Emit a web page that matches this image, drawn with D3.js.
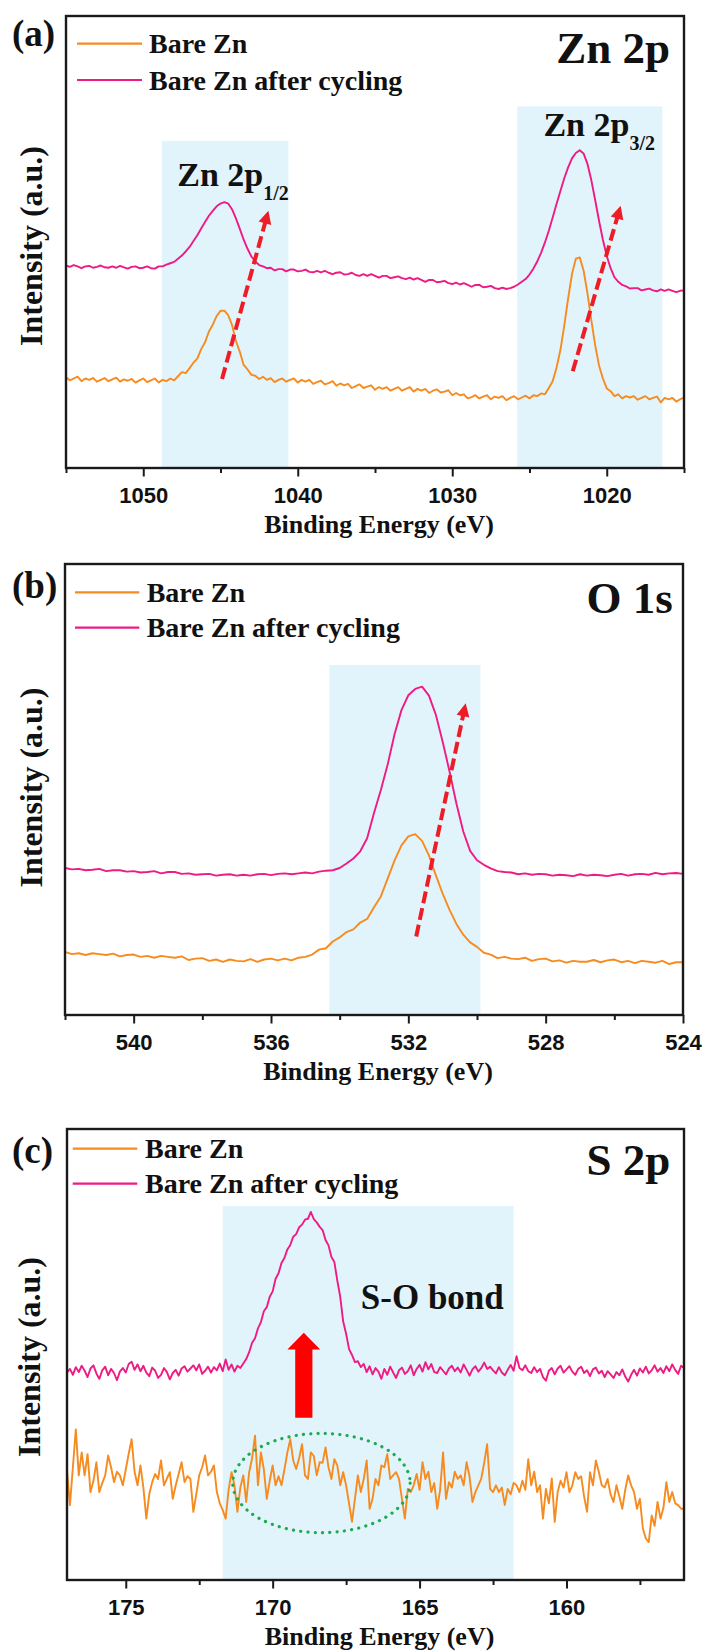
<!DOCTYPE html>
<html>
<head>
<meta charset="utf-8">
<script src="https://cdn.jsdelivr.net/npm/d3@7/dist/d3.min.js"></script>
<style>
  html, body { margin: 0; padding: 0; background: #fff; }
  svg { display: block; }
</style>
</head>
<body>
<svg id="fig" width="706" height="1652"></svg>
<script>
// ---------------- Spectra (intensity in arbitrary units, 0–100 per panel) ----------------

// Zn 2p: 1055 → 1015 eV, 0.25 eV steps
const znStart = 1055, znStep = 0.25;
const znBare = [
  20.1, 19.4, 19.8, 20.2, 19.2, 19.8, 19.5, 19.9,
  19.1, 19.5, 19.9, 19.2, 19.6, 20.0, 19.1, 19.6,
  19.3, 19.7, 18.9, 19.4, 19.8, 19.0, 19.4, 19.8,
  18.9, 19.5, 19.2, 19.8, 19.4, 20.3, 21.2, 21.0,
  22.1, 23.3, 24.2, 26.3, 27.8, 30.2, 31.7, 33.6,
  34.8, 34.8, 33.8, 31.6, 28.1, 25.7, 22.8, 21.8,
  20.6, 20.4, 19.7, 20.2, 19.5, 19.9, 19.0, 19.5,
  19.8, 19.1, 19.5, 19.8, 18.9, 19.5, 19.1, 19.5,
  18.6, 19.0, 19.3, 18.5, 18.8, 19.2, 18.2, 18.7,
  18.3, 18.6, 17.7, 18.1, 18.5, 17.7, 18.0, 18.3,
  17.3, 17.9, 17.5, 17.9, 17.1, 17.5, 17.9, 17.1,
  17.5, 17.9, 16.9, 17.5, 17.1, 17.5, 16.6, 17.1,
  17.4, 16.7, 16.9, 17.2, 16.1, 16.6, 16.1, 16.3,
  15.4, 15.7, 16.1, 15.4, 15.8, 16.1, 15.2, 15.8,
  15.5, 15.9, 15.0, 15.5, 15.9, 15.2, 15.6, 16.0,
  15.4, 16.1, 15.9, 16.5, 16.3, 17.7, 19.2, 22.2,
  26.1, 31.5, 37.5, 42.9, 46.3, 46.6, 43.7, 38.7,
  32.7, 27.2, 22.7, 19.8, 17.6, 17.0, 15.9, 16.3,
  15.4, 15.9, 15.6, 15.9, 15.1, 15.5, 15.9, 15.2,
  15.5, 15.8, 14.5, 15.5, 15.2, 15.5, 14.7, 15.2,
  15.6
];
const znCycled = [
  44.8, 44.5, 44.9, 44.6, 44.2, 44.6, 44.7, 44.3,
  44.5, 44.8, 44.4, 44.3, 44.6, 44.3, 44.7, 44.4,
  44.1, 44.5, 44.6, 44.2, 44.3, 44.6, 44.2, 44.1,
  44.6, 44.6, 45.0, 45.3, 45.6, 46.3, 47.0, 47.9,
  48.9, 50.2, 51.5, 53.0, 54.4, 55.8, 56.9, 57.9,
  58.5, 58.8, 58.5, 57.2, 55.2, 52.9, 50.5, 48.5,
  46.8, 45.7, 44.9, 44.6, 44.2, 44.3, 43.7, 44.0,
  44.0, 43.5, 43.9, 43.9, 43.5, 43.6, 43.9, 43.4,
  43.3, 43.6, 43.3, 43.6, 43.2, 42.9, 43.2, 43.3,
  42.8, 42.9, 43.2, 42.7, 42.5, 42.9, 42.5, 42.9,
  42.5, 42.1, 42.5, 42.5, 42.0, 42.2, 42.4, 42.0,
  41.8, 42.1, 41.7, 42.0, 41.6, 41.2, 41.6, 41.6,
  41.1, 41.2, 41.4, 40.9, 40.7, 41.0, 40.6, 40.9,
  40.5, 40.1, 40.5, 40.5, 40.0, 40.1, 40.3, 39.8,
  39.6, 39.9, 39.6, 39.8, 40.1, 40.6, 41.2, 41.8,
  42.8, 44.1, 45.7, 47.6, 49.9, 52.5, 55.4, 58.4,
  61.3, 64.1, 66.5, 68.5, 69.7, 70.3, 69.6, 67.3,
  63.7, 59.3, 54.7, 50.5, 46.9, 44.2, 42.2, 41.2,
  40.5, 40.2, 39.7, 39.8, 39.8, 39.3, 39.5, 39.7,
  39.3, 39.1, 39.5, 39.2, 39.5, 39.2, 38.9, 39.2,
  39.3
];

// O 1s: 542 → 524 eV, 0.2 eV steps
const oStart = 542, oStep = 0.2;
const oBare = [
  14.0, 13.5, 13.7, 13.3, 13.7, 13.5, 13.3, 13.6, 13.0, 13.3,
  13.4, 12.9, 13.1, 12.7, 13.1, 12.9, 12.7, 13.0, 12.2, 12.5,
  12.6, 12.0, 12.3, 11.8, 12.3, 12.0, 11.9, 12.4, 11.8, 12.3,
  12.5, 12.1, 12.5, 12.1, 12.7, 12.9, 13.4, 14.5, 14.8, 16.3,
  17.2, 18.4, 19.0, 20.5, 21.3, 23.9, 26.3, 30.3, 34.3, 37.6,
  39.6, 40.1, 38.6, 35.4, 31.0, 26.9, 23.3, 20.2, 17.8, 16.1,
  15.1, 13.8, 13.4, 12.6, 12.9, 12.5, 12.4, 12.7, 12.0, 12.4,
  12.5, 11.9, 12.1, 11.6, 12.0, 11.8, 11.8, 12.2, 11.7, 12.1,
  12.3, 11.7, 12.0, 11.5, 12.0, 11.8, 11.6, 12.0, 11.3, 11.7,
  11.7
];
const oCycled = [
  32.6, 32.3, 32.4, 32.1, 32.2, 32.4, 31.9, 32.1, 32.1, 31.8,
  31.9, 31.6, 31.7, 31.9, 31.4, 31.7, 31.7, 31.3, 31.4, 31.1,
  31.2, 31.3, 30.9, 31.1, 31.2, 30.9, 31.1, 30.9, 31.2, 31.3,
  31.0, 31.3, 31.4, 31.2, 31.4, 31.6, 31.4, 31.8, 32.0, 32.1,
  32.6, 33.6, 34.7, 36.3, 39.2, 44.8, 49.9, 55.6, 62.3, 67.6,
  70.9, 72.3, 72.8, 70.8, 66.6, 60.6, 54.0, 46.9, 40.7, 36.4,
  34.3, 33.3, 32.5, 31.9, 31.7, 31.6, 31.2, 31.4, 31.1, 31.3,
  31.2, 30.9, 31.1, 31.0, 30.8, 31.2, 30.9, 31.1, 31.0, 30.8,
  31.1, 31.3, 30.9, 31.2, 31.3, 31.1, 31.5, 31.2, 31.4, 31.5,
  31.3
];

// S 2p: 177 → 156 eV, 0.1 eV steps
const sStart = 177, sStep = 0.1;
const sBare = [
  24.3, 16.6, 25.0, 33.4, 23.2, 28.3, 23.2, 27.9, 19.5, 22.0,
  26.1, 19.5, 21.5, 23.2, 27.6, 25.0, 21.7, 24.0, 23.2, 21.0,
  24.5, 28.0, 31.2, 24.0, 21.0, 25.4, 20.5, 13.6, 19.0, 21.7,
  23.5, 22.4, 26.5, 21.0, 22.5, 23.9, 18.0, 21.0, 23.5, 26.1,
  21.7, 23.0, 22.4, 15.1, 19.0, 23.2, 25.0, 27.6, 23.2, 24.0,
  25.4, 19.5, 17.0, 15.5, 13.6, 20.0, 23.9, 21.0, 15.1, 20.5,
  23.2, 17.3, 23.9, 27.0, 32.0, 21.0, 28.3, 24.5, 18.0, 22.0,
  25.4, 21.0, 23.0, 21.0, 24.5, 28.3, 31.2, 26.5, 24.6, 27.0,
  30.1, 23.2, 22.4, 28.3, 27.5, 23.2, 26.1, 26.0, 29.4, 25.0,
  22.4, 26.8, 25.4, 21.0, 23.9, 21.0, 17.0, 12.9, 18.0, 23.2,
  19.5, 22.4, 26.5, 15.8, 18.0, 22.4, 21.0, 25.4, 25.0, 27.9,
  22.4, 23.2, 23.9, 22.4, 18.0, 13.6, 20.2, 19.5, 21.0, 23.5,
  20.0, 26.1, 22.4, 24.0, 19.5, 21.5, 15.8, 20.0, 28.3, 18.0,
  21.7, 20.5, 24.0, 22.4, 23.2, 21.0, 26.1, 23.0, 17.3, 19.5,
  21.0, 22.5, 26.0, 30.1, 20.2, 19.5, 21.0, 19.5, 20.5, 16.6,
  20.2, 19.0, 21.5, 21.0, 19.5, 22.0, 20.0, 26.8, 21.0, 24.0,
  19.5, 21.0, 13.6, 20.2, 17.0, 22.5, 12.9, 19.5, 22.0, 20.5,
  23.9, 19.5, 21.0, 23.9, 22.4, 23.0, 18.5, 15.1, 23.9, 21.0,
  26.5, 24.0, 21.0, 20.5, 22.4, 19.0, 17.3, 21.0, 18.5, 15.8,
  20.0, 23.2, 21.0, 19.5, 15.8, 18.0, 11.4, 9.2, 8.4, 14.3,
  12.0, 17.3, 13.6, 16.0, 21.7, 17.3, 19.5, 17.0, 16.6, 15.8,
  15.8
];
const sCycled = [
  46.0, 46.8, 45.5, 47.2, 46.1, 47.5, 46.4, 45.0, 46.9, 47.6,
  45.8, 44.6, 46.5, 47.3, 45.4, 46.8, 45.9, 44.3, 46.2, 47.0,
  46.0, 47.9, 48.4, 46.6, 47.8, 46.3, 47.5, 46.0, 45.2, 47.1,
  46.4, 44.8, 45.5, 47.0, 46.1, 44.5, 45.9, 46.6, 45.3, 46.9,
  47.4, 46.2, 46.9, 47.6, 46.5, 47.8, 45.7, 46.4, 47.3, 46.0,
  47.2, 46.5, 48.0, 46.3, 48.9, 46.6, 47.8, 46.2, 47.5, 47.0,
  48.0, 49.0, 50.5, 52.6, 53.6, 55.8, 57.2, 59.6, 60.5, 62.8,
  64.0, 66.8, 68.0, 70.3, 71.4, 73.3, 74.3, 76.1, 76.7, 78.2,
  78.8, 79.9, 80.1, 81.6, 80.0, 79.3, 78.3, 77.6, 75.4, 74.2,
  71.6, 70.5, 66.4, 62.8, 57.3, 54.6, 51.2, 49.9, 48.3, 48.5,
  47.2, 47.9, 46.1, 47.4, 45.6, 47.0, 46.2, 44.6, 46.8, 45.5,
  47.3, 46.0, 44.8, 46.5, 47.1, 45.7, 46.3, 47.6, 45.4, 46.8,
  47.7, 46.2, 48.3, 46.7, 47.9, 46.1, 45.9, 47.2, 46.4, 45.6,
  46.9, 47.5, 46.3, 47.1, 46.0, 47.8, 46.6, 45.3, 46.7, 47.4,
  46.2, 47.0, 48.2, 46.8, 47.3, 46.5, 45.8, 47.2, 46.0, 45.4,
  46.6, 47.7, 46.4, 49.6, 47.0, 46.5, 47.6, 46.3, 45.9, 47.2,
  46.1, 46.8, 45.0, 44.2, 46.4, 47.0, 45.6, 46.9, 47.5, 46.0,
  46.7, 47.4, 46.2, 45.5, 46.8, 47.3, 45.9, 46.5, 45.2, 46.7,
  47.1, 45.8, 46.4, 45.0, 46.3, 45.6, 44.8, 46.1, 45.4, 46.7,
  45.1, 44.0, 45.5, 46.6, 45.3, 46.9, 46.0, 47.3, 45.8, 46.5,
  47.6, 46.2, 47.0, 45.9, 47.4, 46.3, 47.8, 46.6, 45.7, 47.5,
  47.0
];

// Axis ticks (binding energy, eV)
const znMajorTicks = [1050, 1040, 1030, 1020];
const znMinorTicks = [1055, 1045, 1035, 1025, 1015];
const oMajorTicks = [540, 536, 532, 528, 524];
const oMinorTicks = [542, 538, 534, 530, 526];
const sMajorTicks = [175, 170, 165, 160];
const sMinorTicks = [172.5, 167.5, 162.5, 157.5];

const seriesNames = ["Bare Zn", "Bare Zn after cycling"];

// ---------------- Styling ----------------
const SERIF = '"Liberation Serif","Times New Roman",Times,serif';
const SANS = '"Liberation Sans",Arial,Helvetica,sans-serif';
const ORANGE = "#f68b1f";
const PINK = "#ee1b84";
const RED = "#ee1c25";
const BAND = "#e2f4fb";
const INK = "#111";

function grid(start, step, n) {
  return d3.range(n).map(i => +(start - step * i).toFixed(3));
}

const panels = [
  {
    tag: "(a)", title: "Zn 2p",
    box: { left: 66, right: 684, top: 16, bottom: 468 },
    domain: [1055, 1015],
    majors: znMajorTicks, minors: znMinorTicks,
    energy: grid(znStart, znStep, znBare.length),
    bare: znBare, cycled: znCycled,
    bands: [{ from: 1048.8, to: 1040.6, top: 72.4 }, { from: 1025.8, to: 1016.4, top: 80.0 }],
    arrows: [{ from: [1044.9, 19.7], to: [1041.9, 56.9] }, { from: [1022.2, 21.4], to: [1019.1, 58.0] }],
    labels: [{ e: 1047.8, v: 62.3, main: "Zn 2p", sub: "1/2" }, { e: 1024.1, v: 73.5, main: "Zn 2p", sub: "3/2" }],
    tagY: 46, titleX: 670, titleY: 63,
    legend: { x1: 77, x2: 142, tx: 149, y1: 43.7, y2: 80 },
    yTitleX: 42, yTitleY: 246
  },
  {
    tag: "(b)", title: "O 1s",
    box: { left: 65, right: 683, top: 564, bottom: 1015 },
    domain: [542, 524],
    majors: oMajorTicks, minors: oMinorTicks,
    energy: grid(oStart, oStep, oBare.length),
    bare: oBare, cycled: oCycled,
    bands: [{ from: 534.3, to: 529.9, top: 77.6 }],
    arrows: [{ from: [531.77, 17.4], to: [530.33, 69.1] }],
    labels: [],
    tagY: 598, titleX: 672.7, titleY: 613.3,
    legend: { x1: 75, x2: 139.3, tx: 146.7, y1: 592.3, y2: 627.7 },
    yTitleX: 42, yTitleY: 787.5
  },
  {
    tag: "(c)", title: "S 2p",
    box: { left: 67, right: 684, top: 1129, bottom: 1580 },
    domain: [177, 156],
    majors: sMajorTicks, minors: sMinorTicks,
    energy: grid(sStart, sStep, sBare.length),
    bare: sBare, cycled: sCycled,
    bands: [{ from: 171.7, to: 161.8, top: 82.9 }],
    arrows: [],
    labels: [],
    tagY: 1163, titleX: 670.3, titleY: 1175.3,
    legend: { x1: 72.7, x2: 137.3, tx: 145, y1: 1148.7, y2: 1183.7 },
    yTitleX: 40, yTitleY: 1357,
    bond: { e: 167.0, v: 60.1, text: "S-O bond" },
    blockArrow: { e: 168.94, v0: 36.0, vHead: 51.1, vTip: 54.8 },
    ring: { e: 168.34, v: 21.5, re: 3.02, rv: 11.0 }
  }
];

[[znBare, znCycled], [oBare, oCycled], [sBare, sCycled]].forEach(([a, b]) => {
  if (a.length !== b.length) throw new Error("series length mismatch");
});

const svg = d3.select("#fig");

function dashedArrow(g, x0, y0, x1, y1) {
  const dx = x1 - x0, dy = y1 - y0;
  const len = Math.hypot(dx, dy);
  const ux = dx / len, uy = dy / len;
  const headLen = 13, headHalf = 6.5;
  const bx = x1 - ux * headLen, by = y1 - uy * headLen;
  g.append("line")
    .attr("x1", x0).attr("y1", y0).attr("x2", bx + ux * 2).attr("y2", by + uy * 2)
    .attr("stroke", RED).attr("stroke-width", 4)
    .attr("stroke-dasharray", "12,5");
  g.append("polygon")
    .attr("points", [
      [x1, y1],
      [bx - uy * headHalf, by + ux * headHalf],
      [bx + uy * headHalf, by - ux * headHalf]
    ].map(p => p.join(",")).join(" "))
    .attr("fill", RED);
}

panels.forEach(p => {
  const g = svg.append("g");
  const x = d3.scaleLinear().domain(p.domain).range([p.box.left, p.box.right]);
  const y = d3.scaleLinear().domain([0, 100]).range([p.box.bottom, p.box.top]);

  // highlighted binding-energy windows
  p.bands.forEach(b => {
    g.append("rect")
      .attr("x", x(b.from)).attr("width", x(b.to) - x(b.from))
      .attr("y", y(b.top)).attr("height", y(0) - y(b.top))
      .attr("fill", BAND);
  });

  // spectra
  const line = d3.line().x(d => x(d[0])).y(d => y(d[1]));
  [[p.bare, ORANGE], [p.cycled, PINK]].forEach(([vals, col]) => {
    g.append("path")
      .datum(vals.map((v, i) => [p.energy[i], v]))
      .attr("d", line)
      .attr("fill", "none").attr("stroke", col)
      .attr("stroke-width", 1.9).attr("stroke-linejoin", "round");
  });

  // shift arrows
  p.arrows.forEach(a => dashedArrow(g, x(a.from[0]), y(a.from[1]), x(a.to[0]), y(a.to[1])));

  // peak labels with subscripts
  p.labels.forEach(l => {
    const t = g.append("text")
      .attr("x", x(l.e)).attr("y", y(l.v))
      .attr("font-family", SERIF).attr("font-weight", "bold")
      .attr("font-size", 34).attr("fill", INK);
    t.append("tspan").text(l.main);
    t.append("tspan").attr("font-size", 20).attr("dy", 14).text(l.sub);
  });

  if (p.ring) {
    const r = p.ring;
    g.append("ellipse")
      .attr("cx", x(r.e)).attr("cy", y(r.v))
      .attr("rx", Math.abs(x(r.e + r.re) - x(r.e))).attr("ry", Math.abs(y(r.v + r.rv) - y(r.v)))
      .attr("fill", "none").attr("stroke", "#1faa50").attr("stroke-width", 3.2)
      .attr("stroke-linecap", "round").attr("stroke-dasharray", "0.1,7.2");
  }
  if (p.blockArrow) {
    const a = p.blockArrow;
    const cx = x(a.e), shaft = 8.6, head = 16.4;
    const yb = y(a.v0), yh = y(a.vHead), yt = y(a.vTip);
    g.append("polygon")
      .attr("points", [
        [cx - shaft, yb], [cx - shaft, yh], [cx - head, yh], [cx, yt],
        [cx + head, yh], [cx + shaft, yh], [cx + shaft, yb]
      ].map(q => q.join(",")).join(" "))
      .attr("fill", "#ff0000");
  }
  if (p.bond) {
    g.append("text")
      .attr("x", x(p.bond.e)).attr("y", y(p.bond.v))
      .attr("font-family", SERIF).attr("font-weight", "bold")
      .attr("font-size", 35).attr("fill", INK).text(p.bond.text);
  }

  // frame
  g.append("rect")
    .attr("x", p.box.left).attr("y", p.box.top)
    .attr("width", p.box.right - p.box.left).attr("height", p.box.bottom - p.box.top)
    .attr("fill", "none").attr("stroke", "#1a1a1a").attr("stroke-width", 2.4);

  // bottom axis: labelled major ticks and short minor ticks
  const styleTicks = s => {
    s.select(".domain").remove();
    s.selectAll(".tick line").attr("stroke", "#1a1a1a").attr("stroke-width", 2);
  };
  g.append("g").attr("transform", `translate(0,${p.box.bottom})`)
    .call(d3.axisBottom(x).tickValues(p.minors).tickSize(5).tickFormat(""))
    .call(styleTicks);
  g.append("g").attr("transform", `translate(0,${p.box.bottom})`)
    .call(d3.axisBottom(x).tickValues(p.majors).tickSize(8.5).tickPadding(10.5).tickFormat(d3.format("d")))
    .call(styleTicks)
    .call(s => s.selectAll(".tick text")
      .attr("font-family", SANS).attr("font-weight", "bold")
      .attr("font-size", 22).attr("fill", INK));

  // axis titles
  g.append("text")
    .attr("x", (p.box.left + p.box.right) / 2 + 4).attr("y", p.box.bottom + 64.5)
    .attr("text-anchor", "middle")
    .attr("font-family", SERIF).attr("font-weight", "bold").attr("font-size", 26)
    .attr("fill", INK).text("Binding Energy (eV)");
  g.append("text")
    .attr("transform", `translate(${p.yTitleX},${p.yTitleY}) rotate(-90)`)
    .attr("text-anchor", "middle")
    .attr("font-family", SERIF).attr("font-weight", "bold").attr("font-size", 32)
    .attr("fill", INK).text("Intensity (a.u.)");

  // panel tag and core-level title
  g.append("text").attr("x", 12).attr("y", p.tagY)
    .attr("font-family", SERIF).attr("font-weight", "bold").attr("font-size", 37)
    .attr("fill", INK).text(p.tag);
  g.append("text").attr("x", p.titleX).attr("y", p.titleY).attr("text-anchor", "end")
    .attr("font-family", SERIF).attr("font-weight", "bold").attr("font-size", 45)
    .attr("fill", INK).text(p.title);

  // legend
  const L = p.legend;
  [[L.y1, ORANGE, seriesNames[0]], [L.y2, PINK, seriesNames[1]]].forEach(([yy, col, name]) => {
    g.append("line").attr("x1", L.x1).attr("x2", L.x2).attr("y1", yy).attr("y2", yy)
      .attr("stroke", col).attr("stroke-width", 2.2);
    g.append("text").attr("x", L.tx).attr("y", yy + 9.6)
      .attr("font-family", SERIF).attr("font-weight", "bold").attr("font-size", 28)
      .attr("fill", INK).text(name);
  });
});
</script>
</body>
</html>
